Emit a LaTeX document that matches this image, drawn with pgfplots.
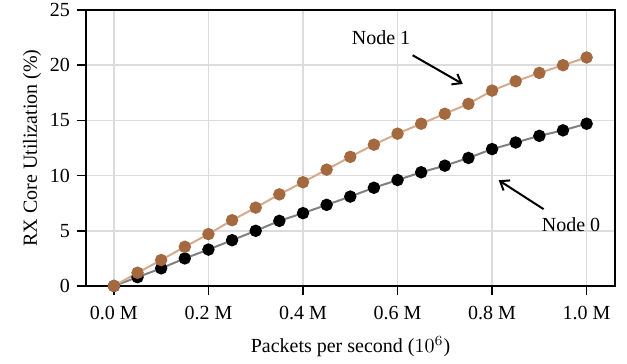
\documentclass[border=0pt]{standalone}
\usepackage{fontspec}
\setmainfont{Liberation Serif}
\usepackage{pgfplots}
\pgfplotsset{compat=1.18}
\usetikzlibrary{arrows.meta}
\definecolor{brownM}{HTML}{A5693F}
\definecolor{brownL}{HTML}{D4AB8E}
\definecolor{gridc}{HTML}{DCDCDC}
\begin{document}
\fontsize{10}{12}\selectfont
\begin{tikzpicture}
\begin{axis}[
  name=ax,
  scale only axis,
  width=264.5pt, height=138pt,
  xmin=-0.059, xmax=1.06, ymin=0, ymax=25,
  xtick={0,0.2,0.4,0.6,0.8,1.0},
  xticklabels={0.0 M,0.2 M,0.4 M,0.6 M,0.8 M,1.0 M},
  ytick={0,5,10,15,20,25},
  /pgf/number format/assume math mode=true,
  tick align=outside, tick pos=left,
  major tick length=4.5pt,
  every tick/.style={black, line width=0.8pt},
  axis line style={line width=0.8pt},
  grid=major,
  major grid style={gridc, line width=0.8pt},
  tick label style={font=\fontsize{10}{12}\selectfont},
  label style={font=\fontsize{10}{12}\selectfont},
  xticklabel style={yshift=-2pt},
  xlabel={Packets per second ($10^6$)},
  ylabel={RX Core Utilization (\%)},
  xlabel style={yshift=-1.5pt},
  ylabel style={yshift=-2.5pt},
  clip=false,
]
\addplot[gray, line width=1pt, mark=*, mark size=2.6pt, mark options={black, fill=black, draw=black}] coordinates {
(0,0) (0.05,0.8) (0.1,1.6) (0.15,2.5) (0.2,3.3) (0.25,4.15) (0.3,5.0) (0.35,5.9) (0.4,6.6) (0.45,7.35) (0.5,8.1) (0.55,8.9) (0.6,9.6) (0.65,10.3) (0.7,10.9) (0.75,11.6) (0.8,12.4) (0.85,13.0) (0.9,13.6) (0.95,14.1) (1.0,14.7)
};
\addplot[brownL, line width=1pt, mark=*, mark size=2.6pt, mark options={brownM, fill=brownM, draw=brownM}] coordinates {
(0,0) (0.05,1.2) (0.1,2.35) (0.15,3.55) (0.2,4.7) (0.25,5.96) (0.3,7.1) (0.35,8.3) (0.4,9.4) (0.45,10.54) (0.5,11.7) (0.55,12.8) (0.6,13.8) (0.65,14.7) (0.7,15.6) (0.75,16.5) (0.8,17.7) (0.85,18.55) (0.9,19.3) (0.95,20.0) (1.0,20.7)
};
\node at (axis cs:0.565,22.5) {Node 1};
\draw[-{Straight Barb[length=4pt,width=6pt]}, line width=1pt] (axis cs:0.632,20.9) -- (axis cs:0.738,18.3);
\node at (axis cs:0.967,5.6) {Node 0};
\draw[-{Straight Barb[length=4pt,width=6pt]}, line width=1pt] (axis cs:0.909,6.96) -- (axis cs:0.814,9.58);
\end{axis}
\pgfresetboundingbox
\path ([xshift=-43pt,yshift=-39pt]ax.south west) rectangle ([xshift=6pt,yshift=5pt]ax.north east);
\end{tikzpicture}
\end{document}
